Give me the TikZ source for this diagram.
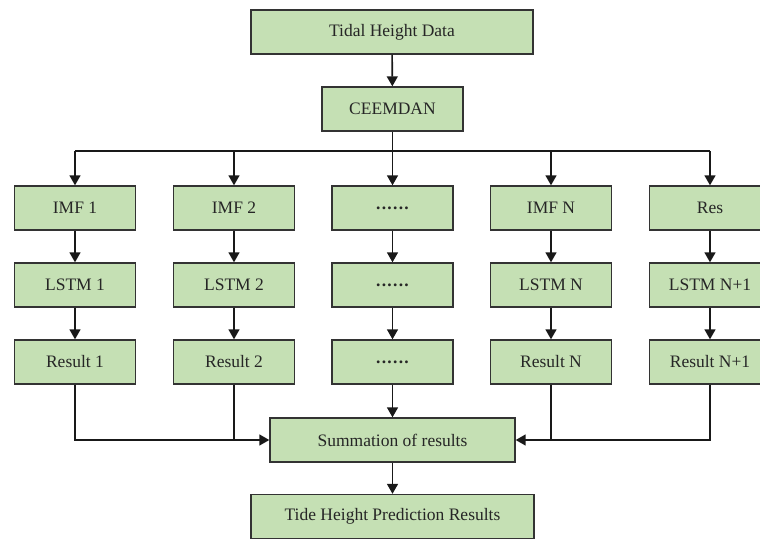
\documentclass[tikz,border=0pt]{standalone}
\usepackage{fontspec}
\setmainfont{Liberation Serif}
\usetikzlibrary{arrows.meta}
\definecolor{boxfill}{HTML}{C5E0B4}
\definecolor{boxline}{HTML}{333333}
\newcommand{\mydots}{\textbf{.\kern1.3pt.\kern1.3pt.\kern1.3pt.\kern1.3pt.\kern1.3pt.}}
\begin{document}
\begin{tikzpicture}[x=1pt,y=-1pt,
  box/.style={draw=boxline, line width=1.4pt, fill=boxfill, minimum height=44pt,
    inner sep=0pt, font=\fontsize{17.5}{20}\selectfont, text=black!85},
  col/.style={box, minimum width=121pt},
  conn/.style={line width=1.6pt, draw=black!90},
  arr/.style={conn, -{Triangle[length=10pt,width=11pt]}}]
\useasboundingbox (0,0) rectangle (760,541);
\clip (0,0) rectangle (760,541);
\node[box, minimum width=282pt] (data) at (392,32) {Tidal Height Data};
\node[box, minimum width=141pt] (ceem) at (392.5,109) {CEEMDAN};
\coordinate (bus) at (392.5,151);
\foreach \n/\x/\a/\b/\c in {c1/75/IMF 1/LSTM 1/Result 1, c2/234/IMF 2/LSTM 2/Result 2, c3/392.5/\mydots/\mydots/\mydots, c4/551/IMF N/LSTM N/Result N, c5/710/Res/LSTM N+1/Result N+1}{
  \node[col] (i\n) at (\x,208) {\a};
  \node[col] (l\n) at (\x,285) {\b};
  \node[col] (r\n) at (\x,362) {\c};
  \draw[arr] (i\n) -- (l\n);
  \draw[arr] (l\n) -- (r\n);
}
\node[box, minimum width=245pt] (sum) at (392.5,440) {Summation of results};
\node[box, minimum width=283pt] (out) at (392.5,516.5) {Tide Height Prediction Results};
\draw[arr] (data) -- (ceem);
\draw[conn] (ceem) -- (bus);
\draw[conn] (ic1 |- bus) -- (ic5 |- bus);
\foreach \n in {c1,c2,c3,c4,c5}{\draw[arr] (i\n |- bus) -- (i\n);}
\draw[arr] (rc1) -- (rc1 |- sum.west) -- (sum.west);
\draw[conn] (rc2) -- (rc2 |- sum.west);
\draw[arr] (rc5) -- (rc5 |- sum.east) -- (sum.east);
\draw[conn] (rc4) -- (rc4 |- sum.east);
\draw[arr] (rc3) -- (sum);
\draw[arr] (sum) -- (out);
\end{tikzpicture}
\end{document}
